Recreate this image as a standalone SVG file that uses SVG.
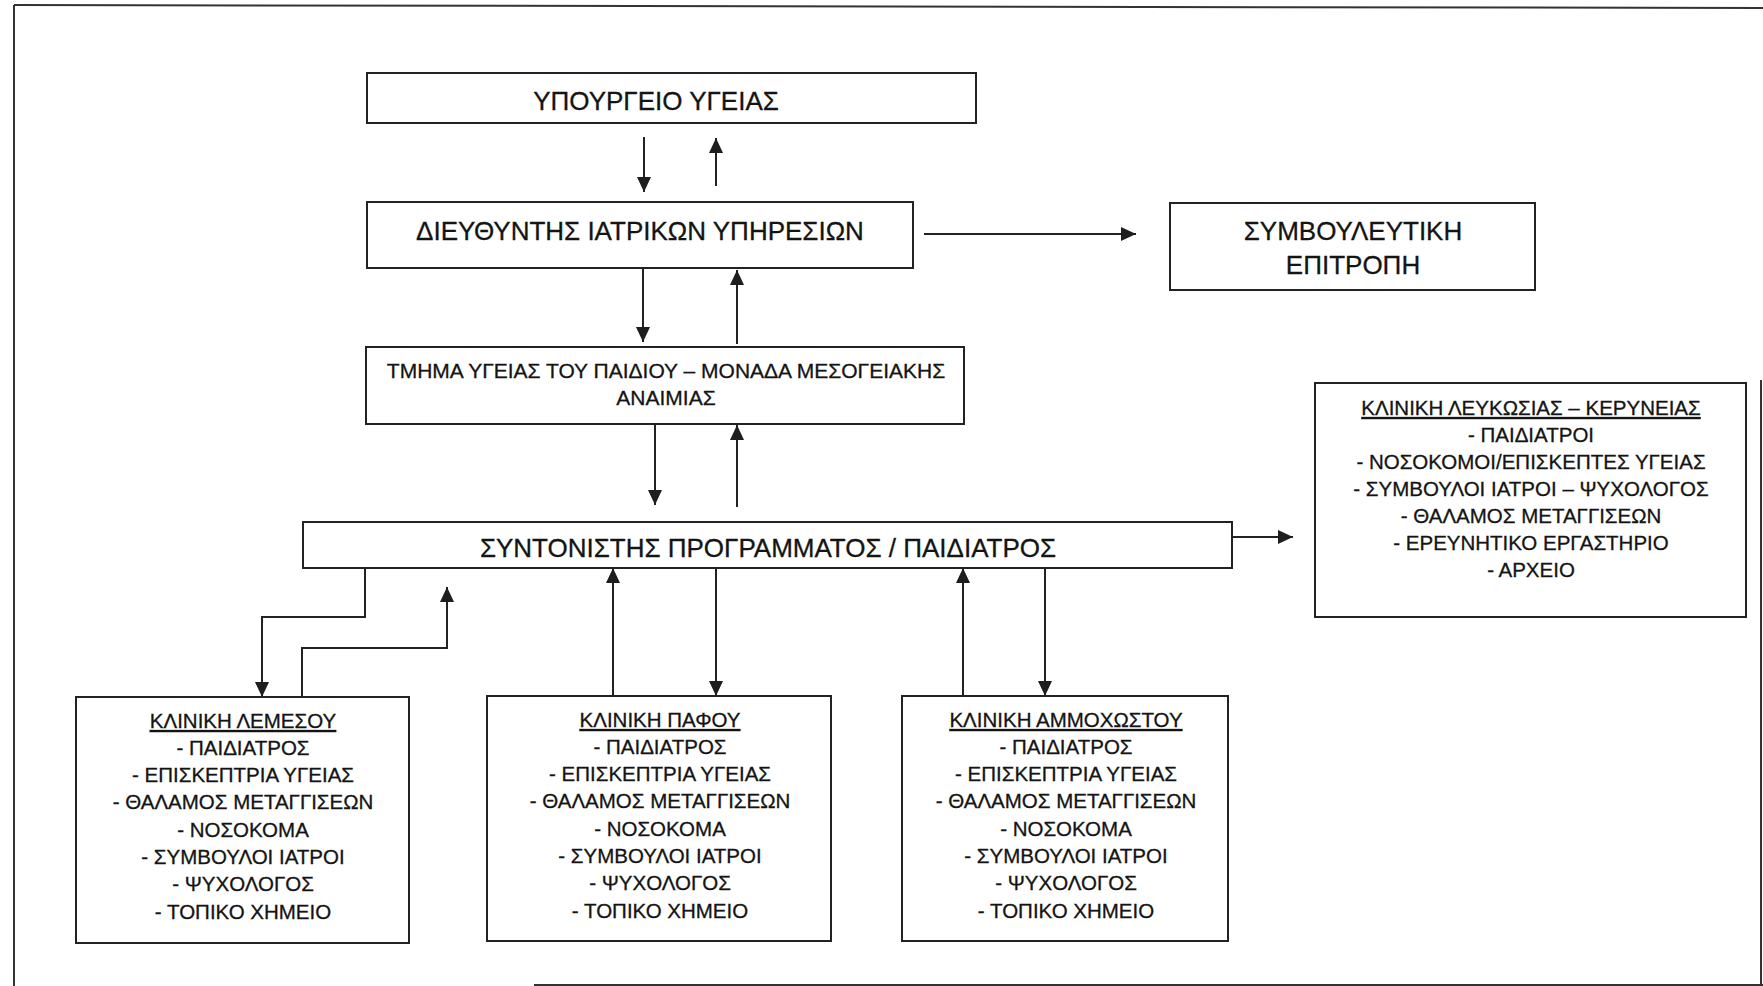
<svg xmlns="http://www.w3.org/2000/svg" width="1763" height="986" viewBox="0 0 1763 986">
<style>
.box{fill:#fff;stroke:#222;stroke-width:2}
.t{font-family:"Liberation Sans",Arial,sans-serif;fill:#141414;text-anchor:middle;stroke:#141414;stroke-width:0.3}
.big{font-size:26px}
.mid{font-size:21px}
.sm{font-size:20.5px}
.u{text-decoration:underline}
.c{fill:none;stroke:#222;stroke-width:2}
.frame{fill:none;stroke:#333;stroke-width:2}
</style>
<defs>
<marker id="ah" viewBox="0 0 15 14" refX="15" refY="7" markerWidth="15" markerHeight="14" markerUnits="userSpaceOnUse" orient="auto">
<path d="M0,0 L15,7 L0,14 z" fill="#1e1e1e"/>
</marker>
</defs>
<rect width="1763" height="986" fill="#fff"/>
<g id="frame">
<line class="frame" x1="14" y1="5" x2="1763" y2="8"/>
<line class="frame" x1="14" y1="5" x2="14" y2="986"/>
<line class="frame" x1="534" y1="985" x2="1763" y2="985"/>
<line class="frame" x1="1761" y1="380" x2="1761" y2="985"/>
</g>
<g id="connectors">
<line class="c" x1="644" y1="137" x2="644" y2="192" marker-end="url(#ah)"/>
<line class="c" x1="716" y1="186" x2="716" y2="138" marker-end="url(#ah)"/>
<line class="c" x1="924" y1="234" x2="1136" y2="234" marker-end="url(#ah)"/>
<line class="c" x1="643" y1="268" x2="643" y2="342" marker-end="url(#ah)"/>
<line class="c" x1="737" y1="344" x2="737" y2="270" marker-end="url(#ah)"/>
<line class="c" x1="655" y1="424" x2="655" y2="505" marker-end="url(#ah)"/>
<line class="c" x1="737" y1="507" x2="737" y2="425" marker-end="url(#ah)"/>
<line class="c" x1="1232" y1="537" x2="1293" y2="537" marker-end="url(#ah)"/>
<polyline class="c" points="365,568 365,617 262,617 262,697" marker-end="url(#ah)"/>
<polyline class="c" points="302,697 302,648 447,648 447,587" marker-end="url(#ah)"/>
<line class="c" x1="613" y1="696" x2="613" y2="568" marker-end="url(#ah)"/>
<line class="c" x1="716" y1="568" x2="716" y2="696" marker-end="url(#ah)"/>
<line class="c" x1="963" y1="696" x2="963" y2="568" marker-end="url(#ah)"/>
<line class="c" x1="1045" y1="568" x2="1045" y2="696" marker-end="url(#ah)"/>
</g>
<g id="ypourgeio">
<rect class="box" x="367" y="73" width="609" height="50"/>
<text class="t big" x="656" y="110">ΥΠΟΥΡΓΕΙΟ ΥΓΕΙΑΣ</text>
</g>
<g id="dieythyntis">
<rect class="box" x="367" y="202" width="546" height="66"/>
<text class="t big" x="640" y="240">ΔΙΕΥΘΥΝΤΗΣ ΙΑΤΡΙΚΩΝ ΥΠΗΡΕΣΙΩΝ</text>
</g>
<g id="symvouleftiki">
<rect class="box" x="1170" y="203" width="365" height="87"/>
<text class="t big" x="1353" y="240">ΣΥΜΒΟΥΛΕΥΤΙΚΗ</text>
<text class="t big" x="1353" y="274">ΕΠΙΤΡΟΠΗ</text>
</g>
<g id="tmima">
<rect class="box" x="366" y="347" width="598" height="77"/>
<text class="t mid" x="666" y="378">ΤΜΗΜΑ ΥΓΕΙΑΣ ΤΟΥ ΠΑΙΔΙΟΥ – ΜΟΝΑΔΑ ΜΕΣΟΓΕΙΑΚΗΣ</text>
<text class="t mid" x="666" y="405">ΑΝΑΙΜΙΑΣ</text>
</g>
<g id="syntonistis">
<rect class="box" x="303" y="522" width="929" height="46"/>
<text class="t big" x="768" y="557">ΣΥΝΤΟΝΙΣΤΗΣ ΠΡΟΓΡΑΜΜΑΤΟΣ / ΠΑΙΔΙΑΤΡΟΣ</text>
</g>
<g id="lefkosia">
<rect class="box" x="1315" y="383" width="431" height="234"/>
<text class="t sm u" x="1531" y="415">ΚΛΙΝΙΚΗ ΛΕΥΚΩΣΙΑΣ – ΚΕΡΥΝΕΙΑΣ</text>
<text class="t sm" x="1531" y="442">- ΠΑΙΔΙΑΤΡΟΙ</text>
<text class="t sm" x="1531" y="469">- ΝΟΣΟΚΟΜΟΙ/ΕΠΙΣΚΕΠΤΕΣ ΥΓΕΙΑΣ</text>
<text class="t sm" x="1531" y="496">- ΣΥΜΒΟΥΛΟΙ ΙΑΤΡΟΙ – ΨΥΧΟΛΟΓΟΣ</text>
<text class="t sm" x="1531" y="523">- ΘΑΛΑΜΟΣ ΜΕΤΑΓΓΙΣΕΩΝ</text>
<text class="t sm" x="1531" y="550">- ΕΡΕΥΝΗΤΙΚΟ ΕΡΓΑΣΤΗΡΙΟ</text>
<text class="t sm" x="1531" y="577">- ΑΡΧΕΙΟ</text>
</g>
<g id="lemesos">
<rect class="box" x="76" y="697" width="333" height="246"/>
<text class="t sm u" x="243" y="728">ΚΛΙΝΙΚΗ ΛΕΜΕΣΟΥ</text>
<text class="t sm" x="243" y="755">- ΠΑΙΔΙΑΤΡΟΣ</text>
<text class="t sm" x="243" y="782">- ΕΠΙΣΚΕΠΤΡΙΑ ΥΓΕΙΑΣ</text>
<text class="t sm" x="243" y="809">- ΘΑΛΑΜΟΣ ΜΕΤΑΓΓΙΣΕΩΝ</text>
<text class="t sm" x="243" y="837">- ΝΟΣΟΚΟΜΑ</text>
<text class="t sm" x="243" y="864">- ΣΥΜΒΟΥΛΟΙ ΙΑΤΡΟΙ</text>
<text class="t sm" x="243" y="891">- ΨΥΧΟΛΟΓΟΣ</text>
<text class="t sm" x="243" y="919">- ΤΟΠΙΚΟ ΧΗΜΕΙΟ</text>
</g>
<g id="pafos">
<rect class="box" x="487" y="696" width="344" height="245"/>
<text class="t sm u" x="660" y="727">ΚΛΙΝΙΚΗ ΠΑΦΟΥ</text>
<text class="t sm" x="660" y="754">- ΠΑΙΔΙΑΤΡΟΣ</text>
<text class="t sm" x="660" y="781">- ΕΠΙΣΚΕΠΤΡΙΑ ΥΓΕΙΑΣ</text>
<text class="t sm" x="660" y="808">- ΘΑΛΑΜΟΣ ΜΕΤΑΓΓΙΣΕΩΝ</text>
<text class="t sm" x="660" y="836">- ΝΟΣΟΚΟΜΑ</text>
<text class="t sm" x="660" y="863">- ΣΥΜΒΟΥΛΟΙ ΙΑΤΡΟΙ</text>
<text class="t sm" x="660" y="890">- ΨΥΧΟΛΟΓΟΣ</text>
<text class="t sm" x="660" y="918">- ΤΟΠΙΚΟ ΧΗΜΕΙΟ</text>
</g>
<g id="ammochostos">
<rect class="box" x="902" y="696" width="326" height="245"/>
<text class="t sm u" x="1066" y="727">ΚΛΙΝΙΚΗ ΑΜΜΟΧΩΣΤΟΥ</text>
<text class="t sm" x="1066" y="754">- ΠΑΙΔΙΑΤΡΟΣ</text>
<text class="t sm" x="1066" y="781">- ΕΠΙΣΚΕΠΤΡΙΑ ΥΓΕΙΑΣ</text>
<text class="t sm" x="1066" y="808">- ΘΑΛΑΜΟΣ ΜΕΤΑΓΓΙΣΕΩΝ</text>
<text class="t sm" x="1066" y="836">- ΝΟΣΟΚΟΜΑ</text>
<text class="t sm" x="1066" y="863">- ΣΥΜΒΟΥΛΟΙ ΙΑΤΡΟΙ</text>
<text class="t sm" x="1066" y="890">- ΨΥΧΟΛΟΓΟΣ</text>
<text class="t sm" x="1066" y="918">- ΤΟΠΙΚΟ ΧΗΜΕΙΟ</text>
</g>
</svg>
